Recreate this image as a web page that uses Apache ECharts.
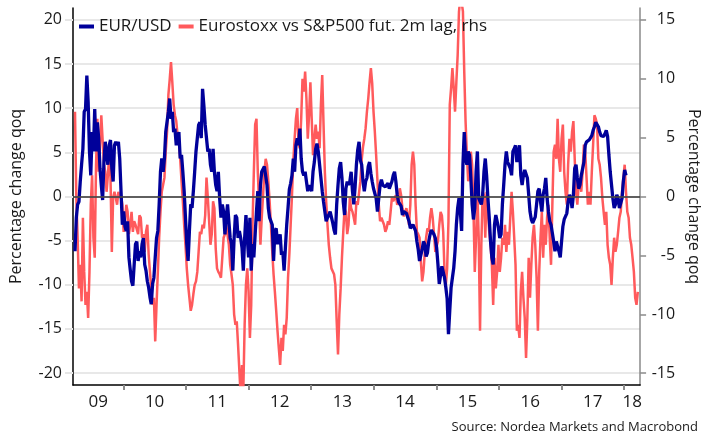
<!DOCTYPE html>
<html><head><meta charset="utf-8">
<script src="https://cdn.jsdelivr.net/npm/echarts@6/dist/echarts.min.js"></script>
<style>html,body{margin:0;padding:0;background:#fff}#c{width:710px;height:448px}</style>
</head><body><div id="c"></div>
<script>
// Observation timing (decimal years): first plotted reading and spacing of readings
const firstObs = 2009.228;
const obsStep = 0.021011;

// EUR/USD, % change q/q (left axis)
const eurUsd = [
-6.2,-2.4,-0.9,-0.6,1.7,3.6,5.4,9.6,9.9,13.7,
10.7,5.1,2.4,7.3,5.1,9.9,5.1,8.4,6.6,3.2,
1.3,-0.4,3.9,6.2,4.7,3.6,5.8,6.4,3.2,1.7,
5.8,6.2,5.8,6.2,4.3,0.6,-3.2,-1.7,-3.4,-3.9,
-2.8,-6.9,-8.3,-9.6,-10.1,-7.7,-5.4,-5.1,-7.3,-6.2,
-6.9,-5.4,-4.7,-7.7,-8.4,-9.6,-10.3,-11.4,-12.2,-9.9,
-9.2,-6.9,-4.7,-3.9,-0.9,2.8,4.3,2.8,4.3,7.3,
7.3,9.6,11.1,8.8,9.6,7.3,7.7,5.8,6.6,7.3,
4.3,4.7,2.8,0.6,-2.4,-5.4,-7.3,-3.9,-0.9,-1.3,
0.6,2.8,5.1,6.6,8.1,8.4,6.6,12.2,10.3,8.1,
6.6,5.1,5.4,3.6,2.8,5.4,2.8,1.3,0.6,2.8,
-0.2,-2.4,-0.9,-1.7,-4.3,-2.4,-0.9,-2.8,-4.7,-5.4,
-8.4,-4.7,-2.1,-2.4,-4.7,-3.9,-4.7,-5.8,-8.4,-4.7,
-2.1,-4.7,-6.9,-2.4,-8.4,-5.4,-6.9,-4.3,-1.7,0.6,-2.8,
1.3,2.8,3.0,3.4,3.6,1.3,-1.3,-2.4,-2.4,-3.2,
-7.3,-3.9,-3.6,-5.4,-4.7,-4.3,-6.6,-6.2,-8.4,-5.8,
-3.2,-1.3,0.8,1.5,2.4,4.3,2.8,5.8,6.6,5.8,
7.7,4.3,2.8,2.4,2.8,1.7,0.6,1.3,1.1,0.6,
2.8,3.9,5.4,6.0,5.1,3.6,2.1,0.6,-0.6,-1.7,
-2.8,-2.4,-2.1,-1.7,-1.7,-3.0,-3.8,-4.3,-0.9,1.3,
3.2,3.9,2.1,-0.6,-2.1,0.9,1.7,1.3,1.7,2.8,
0.6,-0.9,1.1,3.6,5.3,6.2,4.1,3.6,1.7,0.6,
1.7,2.1,3.4,3.9,2.6,1.7,0.9,0.9,-0.2,-1.7,
-0.2,1.3,1.9,1.3,1.1,1.1,1.3,1.5,0.9,0.9,
1.7,2.4,2.8,1.7,0.2,-0.6,-0.8,-1.1,-2.1,-1.7,
-1.5,-1.9,-2.1,-2.8,-3.6,-3.4,-3.2,-3.4,-3.9,-5.1,
-6.0,-7.3,-7.3,-6.0,-5.1,-5.4,-6.8,-6.4,-5.1,-4.3,
-3.8,-3.8,-4.3,-4.7,-5.8,-7.7,-9.9,-9.9,-7.9,-7.9,
-9.2,-10.3,-11.6,-15.6,
-12.9,-10.3,-9.2,-8.1,-6.2,-3.2,-1.3,-0.2,-1.7,-3.9,
3.6,7.3,4.3,3.6,5.1,4.7,2.1,-0.9,-2.6,-1.3,
2.8,5.1,-0.2,-0.2,-0.9,0.2,2.8,4.3,2.4,-0.2,
-2.4,-5.1,-6.9,-7.7,-3.2,-2.1,-2.8,-3.6,-4.7,-4.3,
-0.9,1.3,3.6,5.1,3.9,3.8,3.2,2.4,5.1,5.4,
5.8,3.9,4.7,5.8,2.4,1.3,2.4,3.0,3.0,2.1,
0.2,-1.7,-2.6,-3.0,-3.2,-2.3,-0.9,0.6,0.9,-0.6,
-1.7,0.2,0.9,2.1,-0.2,-1.7,-2.8,-3.2,-3.2,-5.1,
-6.2,-5.1,-5.1,-6.2,-6.9,-5.1,-3.4,-2.6,-2.6,-1.9,
-0.6,0.2,-0.2,-1.3,0.2,3.2,3.6,2.1,0.9,1.3,
2.4,2.6,3.9,5.8,6.2,6.4,6.4,6.2,6.9,7.5,
7.9,8.4,8.3,7.9,7.3,6.9,6.9,6.8,7.1,7.5,
6.8,4.7,2.8,1.3,-0.2,-1.3,-0.9,0.2,-0.2,-1.3,
-1.3,-0.2,1.7,3.0,2.4
];

// Eurostoxx vs S&P500 futures, 2m lag, % change q/q (right axis)
const stoxxVsSpx = [
7.2,-0.1,-3.5,-7.8,-5.8,-8.9,-1.8,-6.4,-9.2,-8.1,
-10.3,-6.4,-0.7,1.8,-3.5,-5.2,2.7,6.6,2.1,4.4,
6.9,6.9,2.7,2.1,0.4,1.8,3.5,1.6,-4.7,-0.1,
0.4,-0.1,-0.7,0.4,-0.1,0.1,-0.7,-3.0,-2.1,-0.7,
-1.3,-3.2,-2.4,-1.3,-3.0,-2.1,-2.4,-2.4,-3.2,-1.6,
-1.8,-3.5,-3.2,-4.7,-3.0,-2.4,-4.9,-6.4,-7.8,-9.2,
-8.6,-12.3,-9.2,-6.4,-3.5,-1.3,0.4,1.0,1.6,3.8,
5.5,8.6,9.9,11.4,9.7,7.8,6.9,6.4,5.2,4.7,
3.2,1.3,-0.4,-2.4,-4.1,-6.1,-7.5,-8.6,-9.7,-9.2,
-8.3,-7.5,-7.2,-6.4,-4.7,-3.0,-3.2,-2.4,-2.7,-1.6,
1.6,-0.1,-2.1,-4.1,-3.2,-0.4,-1.0,-4.4,-6.1,-6.4,
-6.6,-6.9,-5.2,-3.5,-3.2,-2.4,-2.4,-4.1,-5.8,-6.6,
-7.5,-10.0,-10.9,-10.6,-12.6,-14.8,-17.0,-14.3,-16.5,-10.9,
-7.5,-6.1,-8.1,-12.0,-9.2,-2.4,2.1,6.1,6.6,2.1,-0.7,
-4.1,-1.8,0.1,2.1,3.2,2.7,1.3,-0.4,-2.4,-4.7,
-6.6,-8.1,-9.7,-11.4,-12.9,-14.3,-12.0,-13.1,-10.9,-11.7,
-10.3,-6.9,-4.9,-2.4,0.1,3.0,4.9,6.6,7.5,4.4,
4.1,6.6,10.0,8.9,10.6,8.3,4.9,6.9,9.7,6.6,
3.5,4.9,6.1,4.9,5.5,4.1,7.8,10.3,6.1,2.1,
-0.4,-2.4,-4.1,-5.2,-6.1,-6.1,-6.6,-7.5,-10.6,-13.4,
-10.0,-7.8,-5.2,-3.0,-1.0,-1.3,-3.2,-2.4,-0.1,-1.0,
-1.3,-1.8,-2.4,-0.4,-0.7,-0.7,1.3,3.1,4.2,4.9,
5.8,7.2,8.3,9.7,10.9,9.6,7.2,5.5,3.5,1.3,
-0.7,-2.1,-1.8,-2.1,-2.4,-3.0,-2.7,-2.1,-2.4,-1.3,
-0.1,-0.4,-0.4,0.1,-0.7,-0.4,0.7,0.1,-1.0,-1.7,
-1.3,-1.0,-1.6,-2.4,-0.7,2.7,3.8,2.7,-0.7,-3.0,
-3.2,-3.5,-5.5,-7.2,-6.4,-4.7,-3.5,-2.7,-3.0,-1.8,
-1.0,-1.8,-3.2,-4.7,-4.7,-3.8,-2.4,-1.3,-1.6,-3.0,
-6.4,-7.5,-6.1,-2.1,
7.8,9.2,10.9,9.2,7.2,9.7,12.0,15.7,16.8,16.5,
15.7,10.6,6.4,3.5,1.3,1.6,3.8,2.7,-1.0,-6.4,
-3.5,0.4,-3.5,-11.4,-4.1,0.4,0.1,-3.5,0.4,-1.3,
-3.0,-4.1,-5.8,-9.2,-5.2,-7.8,-6.4,-4.1,-6.4,-5.2,
-3.5,-4.1,-2.4,-4.7,-3.0,-4.1,-1.8,0.4,-1.3,-3.5,
-5.8,-11.4,-10.9,-12.0,-8.1,-6.4,-8.6,-10.3,-13.7,-10.3,
-5.2,-8.6,-5.8,-3.5,-2.4,-4.1,-6.9,-11.4,-6.4,-3.5,
-1.3,-5.2,-2.4,-4.1,-1.8,-0.7,-3.5,-5.8,-0.7,3.8,
4.4,3.2,6.6,3.2,2.1,4.9,6.1,2.1,0.4,-0.7,
2.7,4.9,3.8,5.5,6.4,3.2,0.4,-0.7,1.0,1.6,
0.4,2.1,4.4,3.8,1.6,-0.7,0.4,-0.7,2.1,4.4,
6.9,6.6,6.1,3.2,2.7,1.6,-0.1,-1.3,-2.4,-1.3,
-4.1,-5.2,-5.8,-7.5,-5.2,-3.5,-4.7,-4.1,-3.0,-1.8,
-1.3,0.4,1.6,2.7,0.4,-1.3,-1.8,-3.5,-4.1,-5.2,
-6.4,-8.6,-9.2,-8.1
];

const yearTicks = [2010, 2011, 2012, 2013, 2014, 2015, 2016, 2017, 2018];
const yearLabelPos = [2009.6, 2010.5, 2011.5, 2012.5, 2013.5, 2014.5, 2015.5, 2016.5, 2017.5, 2018.13];
const yearLabels = ['09', '10', '11', '12', '13', '14', '15', '16', '17', '18'];
const leftTicks = [-20, -15, -10, -5, 0, 5, 10, 15, 20];
const rightTicks = [-15, -10, -5, 0, 5, 10, 15];

const FONT = 'Open Sans';
const toPairs = arr => arr.map((v, i) => [firstObs + i * obsStep, v]);

const chart = echarts.init(document.getElementById('c'), null, { renderer: 'canvas' });
chart.setOption({
  animation: false,
  backgroundColor: '#fff',
  textStyle: { fontFamily: FONT },
  grid: { left: 68, right: 67, top: 8, bottom: 63, containLabel: false },
  legend: {
    left: 74, top: 13, icon: 'rect', itemWidth: 15, itemHeight: 4, itemGap: 7,
    textStyle: { fontFamily: FONT, fontSize: 17, color: '#1a1a1a' },
    data: ['EUR/USD', 'Eurostoxx vs S&P500 fut. 2m lag, rhs']
  },
  xAxis: {
    type: 'value', min: 2009.196, max: 2018.257,
    axisLine: { show: true, onZero: false, lineStyle: { color: '#000', width: 1.5 } },
    axisTick: { show: true, customValues: yearTicks, length: 5, lineStyle: { color: '#8a8a8a', width: 2 } },
    axisLabel: {
      customValues: yearLabelPos, margin: 9, fontSize: 17, color: '#1a1a1a', fontFamily: FONT,
      formatter: v => { const i = yearLabelPos.findIndex(p => Math.abs(p - v) < 1e-6); return i >= 0 ? yearLabels[i] : ''; }
    },
    splitLine: { show: false }
  },
  yAxis: [
    {
      type: 'value', position: 'left', min: -21.35, max: 21.35,
      name: 'Percentage change qoq', nameLocation: 'middle', nameGap: 49,
      nameTextStyle: { fontSize: 16, color: '#1a1a1a', fontFamily: FONT },
      axisLine: { show: true, onZero: false, lineStyle: { color: '#000', width: 1.5 } },
      axisTick: { show: true, customValues: leftTicks, length: 8, lineStyle: { color: '#e6e6e6', width: 2 } },
      axisLabel: { customValues: leftTicks, margin: 11, fontSize: 16, color: '#1a1a1a', fontFamily: FONT },
      splitLine: { show: true, lineStyle: { color: '#e8e8e8', width: 2 } }
    },
    {
      type: 'value', position: 'right', min: -16, max: 16,
      name: 'Percentage change qoq', nameLocation: 'middle', nameGap: 45, nameRotate: -90,
      nameTextStyle: { fontSize: 16, color: '#1a1a1a', fontFamily: FONT },
      axisLine: { show: true, onZero: false, lineStyle: { color: '#8a8a8a', width: 1.5 } },
      axisTick: { show: true, customValues: rightTicks, length: 6, lineStyle: { color: '#8a8a8a', width: 1.5 } },
      axisLabel: { customValues: rightTicks, margin: 35, align: 'right', fontSize: 16, color: '#1a1a1a', fontFamily: FONT },
      splitLine: { show: false }
    }
  ],
  series: [
    {
      name: 'Eurostoxx vs S&P500 fut. 2m lag, rhs', type: 'line', yAxisIndex: 1,
      data: toPairs(stoxxVsSpx), showSymbol: false, symbol: 'none', clip: true, z: 2,
      itemStyle: { color: '#ff5a5c' },
      lineStyle: { color: '#ff5a5c', width: 2.5 }
    },
    {
      name: 'EUR/USD', type: 'line', yAxisIndex: 0,
      data: toPairs(eurUsd), showSymbol: false, symbol: 'none', clip: true, z: 3,
      itemStyle: { color: '#00009a' },
      lineStyle: { color: '#00009a', width: 3.3 },
      markLine: {
        silent: true, symbol: 'none', label: { show: false }, z: 10,
        lineStyle: { color: 'rgba(70,70,70,0.85)', width: 2, type: 'solid' },
        data: [{ yAxis: 0 }]
      }
    }
  ],
  graphic: [{
    type: 'text', right: 12, top: 421,
    style: { text: 'Source: Nordea Markets and Macrobond', fontSize: 13, fill: '#1a1a1a', fontFamily: FONT }
  }]
});
</script>
</body></html>
